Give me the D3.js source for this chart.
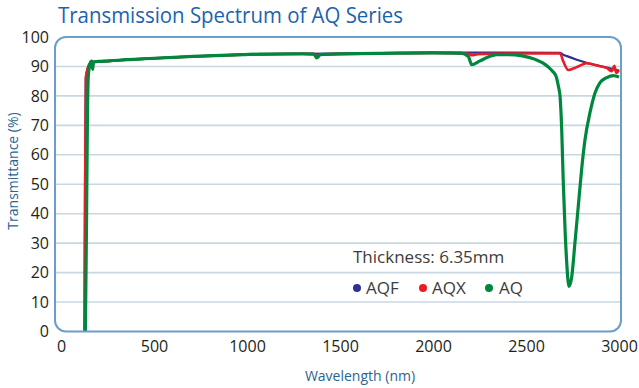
<!DOCTYPE html>
<html>
<head>
<meta charset="utf-8">
<script src="https://cdn.jsdelivr.net/npm/d3@7"></script>
<style>
  body { margin: 0; background: #fff; }
  svg { display: block; font-family: "Open Sans", sans-serif; }
</style>
</head>
<body>
<div id="svg-container"></div>
<script>
////////////////////////////////////////////////////////////////////
////////////////////////////  Data  ////////////////////////////////

// wavelength (nm), transmittance (%)
const aqfData = [
  [126, 0], [129, 50], [133, 86], [140, 88.5], [150, 90.5], [165, 91.5],
  [263, 91.9], [443, 92.6], [711, 93.4], [978, 94.0], [1300, 94.3], [1800, 94.6],
  [2000, 94.7], [2400, 94.7], [2683, 94.6], [2700, 94.0], [2720, 93.5], [2773, 92.3],
  [2826, 91.2], [2880, 90.4], [2934, 89.6], [2970, 89.0], [3000, 88.6]
];
const aqxData = [
  [127, 0], [130, 50], [134, 86], [140, 88.5], [150, 90.5], [165, 91.5],
  [263, 91.9], [443, 92.6], [711, 93.4], [978, 94.0], [1300, 94.3], [1365, 94.2],
  [1375, 93.4], [1390, 94.1], [1800, 94.5], [2000, 94.6], [2190, 94.3], [2210, 93.8],
  [2240, 94.2], [2400, 94.4], [2683, 94.4], [2700, 91.8], [2728, 88.8], [2750, 89.2],
  [2781, 90.0], [2826, 91.1], [2880, 90.3], [2934, 89.5], [2960, 88.4], [2975, 90.2],
  [2985, 87.8], [3000, 88.8]
];
const aqData = [
  [131, 0], [137, 35], [142, 72], [147, 87], [152, 89.5], [160, 91.6],
  [166, 91.8], [170, 89.0], [175, 91.4], [200, 91.7], [263, 91.9], [350, 92.3],
  [443, 92.6], [711, 93.4], [978, 94.0], [1070, 94.2], [1300, 94.3], [1360, 94.2],
  [1375, 92.9], [1395, 94.0], [1500, 94.3], [1800, 94.5], [2000, 94.6], [2150, 94.5],
  [2190, 93.4], [2208, 90.6], [2250, 91.8], [2300, 93.3], [2342, 94.0], [2400, 94.0],
  [2480, 93.6], [2550, 92.4], [2590, 91.2], [2620, 89.8], [2645, 88.2], [2662, 86.6],
  [2675, 83.0], [2683, 79.9], [2692, 68.5], [2700, 51.5], [2710, 34.5], [2719, 23.3],
  [2731, 15.3], [2746, 18.6], [2763, 30.0], [2781, 42.5], [2799, 55.0], [2817, 65.0],
  [2844, 74.3], [2871, 81.0], [2898, 84.5], [2934, 86.2], [2970, 86.9], [3000, 86.4]
];

const seriesNames = ["AQF", "AQX", "AQ"];
const xTicks = [0, 500, 1000, 1500, 2000, 2500, 3000];
const yTicks = [0, 10, 20, 30, 40, 50, 60, 70, 80, 90, 100];
const gridValues = [10, 20, 30, 40, 50, 60, 70, 80, 90];

////////////////////////////////////////////////////////////////////
////////////////////////////  Init  ////////////////////////////////

const width = 639;
const height = 388;

const svg = d3.select("#svg-container").append("svg")
  .attr("width", width)
  .attr("height", height);

const colors = { AQF: "#2e3192", AQX: "#ed1c24", AQ: "#00873e" };
const lineWidths = { AQF: 2.2, AQX: 2.6, AQ: 3.2 };

// scales
const x = d3.scaleLinear().domain([0, 3000]).range([61, 619]);
const y = d3.scaleLinear().domain([0, 100]).range([331.5, 37]);

const frame = { left: 55, right: 621, top: 37, bottom: 331.5 };

// grid lines
svg.append("g")
  .selectAll("line")
  .data(gridValues)
  .join("line")
  .attr("x1", frame.left + 1)
  .attr("x2", frame.right - 1)
  .attr("y1", d => y(d))
  .attr("y2", d => y(d))
  .attr("stroke", "#c8d7e1")
  .attr("stroke-width", 1.6);

// lines
const line = d3.line()
  .x(d => x(d[0]))
  .y(d => y(d[1]))
  .curve(d3.curveMonotoneX);

const allData = { AQF: aqfData, AQX: aqxData, AQ: aqData };

svg.append("g")
  .selectAll("path")
  .data(seriesNames)
  .join("path")
  .attr("d", d => line(allData[d]))
  .attr("fill", "none")
  .attr("stroke", d => colors[d])
  .attr("stroke-width", d => lineWidths[d])
  .attr("stroke-linejoin", "round");

// frame (rounded box)
svg.append("rect")
  .attr("x", frame.left)
  .attr("y", frame.top)
  .attr("width", frame.right - frame.left)
  .attr("height", frame.bottom - frame.top)
  .attr("rx", 11)
  .attr("fill", "none")
  .attr("stroke", "#6b9fc7")
  .attr("stroke-width", 2);

// axes (labels only)
const yAxis = svg.append("g")
  .attr("transform", "translate(49,0)")
  .call(d3.axisLeft(y).tickValues(yTicks).tickSize(0).tickPadding(0));

const xAxis = svg.append("g")
  .attr("transform", "translate(0,340)")
  .call(d3.axisBottom(x).tickValues(xTicks).tickFormat(d3.format("d")).tickSize(0).tickPadding(0));

[yAxis, xAxis].forEach(a => {
  a.select(".domain").remove();
  a.selectAll("text")
    .attr("font-family", "'Open Sans', sans-serif")
    .attr("font-size", 16)
    .attr("fill", "#231f20");
});
xAxis.selectAll("text").attr("dy", "0.75em");

// title
svg.append("text")
  .attr("x", 58)
  .attr("y", 23)
  .attr("font-size", 22)
  .attr("fill", "#1a63ad")
  .attr("textLength", 345)
  .attr("lengthAdjust", "spacingAndGlyphs")
  .text("Transmission Spectrum of AQ Series");

// axis titles
svg.append("text")
  .attr("transform", "translate(18,171) rotate(-90)")
  .attr("text-anchor", "middle")
  .attr("font-size", 14)
  .attr("fill", "#2a6591")
  .text("Transmittance (%)");

svg.append("text")
  .attr("x", 360)
  .attr("y", 381)
  .attr("text-anchor", "middle")
  .attr("font-size", 14)
  .attr("fill", "#2a6591")
  .text("Wavelength (nm)");

// legend
svg.append("text")
  .attr("x", 353)
  .attr("y", 263)
  .attr("font-size", 17)
  .attr("fill", "#3c3c3c")
  .text("Thickness: 6.35mm");

const legendX = [357, 423, 489];
const legend = svg.append("g")
  .selectAll("g")
  .data(seriesNames)
  .join("g")
  .attr("transform", (d, i) => `translate(${legendX[i]},288)`);

legend.append("circle")
  .attr("r", 4)
  .attr("fill", d => colors[d]);

legend.append("text")
  .attr("x", d => d === "AQ" ? 10 : 9)
  .attr("y", 6)
  .attr("font-size", 17)
  .attr("fill", "#3c3c3c")
  .text(d => d);
</script>
</body>
</html>
